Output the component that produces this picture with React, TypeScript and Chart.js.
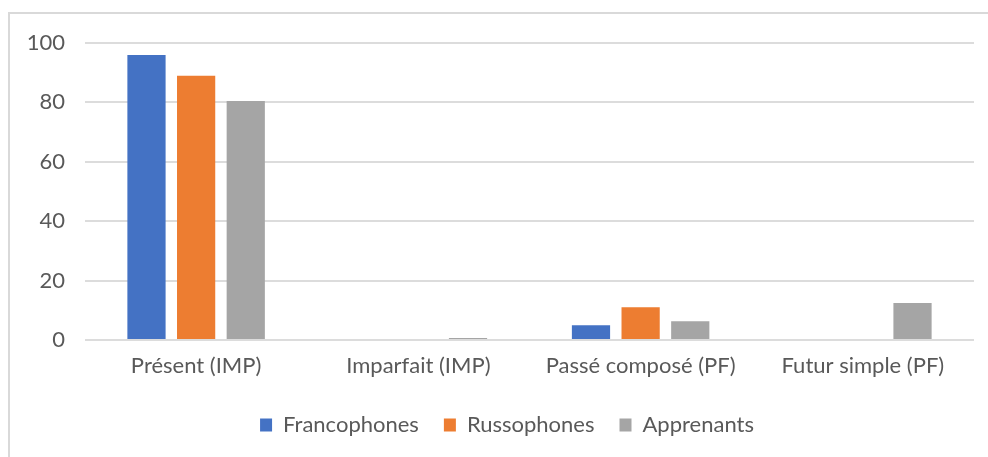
import React, { useEffect, useRef } from "react";
import { Chart, registerables } from "chart.js";

Chart.register(...registerables);

const categories = ["Présent (IMP)", "Imparfait (IMP)", "Passé composé (PF)", "Futur simple (PF)"];
const francophones = [96, 0, 5, 0];
const russophones = [89, 0, 11, 0];
const apprenants = [80.5, 0.7, 6.3, 12.5];
const seriesNames = ["Francophones", "Russophones", "Apprenants"];
const yTicks = [0, 20, 40, 60, 80, 100];

const legendShift = {
  id: "legendShift",
  afterLayout(chart: any) {
    const lg = chart.legend;
    if (lg) {
      lg.left += 20;
      lg.right += 20;
    }
  },
};

export default function App() {
  const ref = useRef<HTMLCanvasElement | null>(null);
  useEffect(() => {
    if (!ref.current) return;
    const font = { family: "Lato, 'Open Sans', sans-serif", size: 22 };
    const chart = new Chart(ref.current, {
      type: "bar",
      data: {
        labels: categories,
        datasets: [
          { label: seriesNames[0], data: francophones, backgroundColor: "#4472C4" },
          { label: seriesNames[1], data: russophones, backgroundColor: "#ED7D31" },
          { label: seriesNames[2], data: apprenants, backgroundColor: "#A5A5A5" },
        ],
      },
      plugins: [legendShift],
      options: {
        animation: false,
        responsive: false,
        devicePixelRatio: 1,
        datasets: { bar: { categoryPercentage: 0.67, barPercentage: 0.77 } },
        layout: { padding: { top: 43, right: 14, left: 0, bottom: 11 } },
        plugins: {
          tooltip: { enabled: false },
          legend: {
            position: "bottom",
            labels: {
              font,
              color: "#595959",
              boxWidth: 12,
              boxHeight: 13,
              padding: 25,
            },
          },
        },
        scales: {
          x: {
            grid: { display: false },
            border: { display: false },
            ticks: { font, color: "#595959", padding: 5, maxRotation: 0 },
            afterFit: (s: any) => {
              s.height = 49;
            },
          },
          y: {
            min: 0,
            max: 100,
            afterBuildTicks: (s: any) => {
              s.ticks = yTicks.map((v) => ({ value: v }));
            },
            afterFit: (s: any) => {
              s.width = 85;
            },
            grid: { color: "#dcdcdc", lineWidth: 2, drawTicks: false },
            border: { display: false },
            ticks: { font, color: "#595959", padding: 20 },
          },
        },
      },
    });
    return () => chart.destroy();
  }, []);
  return (
    <div style={{ position: "fixed", left: 0, top: 0, width: 988, height: 457, background: "#fff", overflow: "hidden" }}>
      <div
        style={{
          position: "absolute",
          left: 8,
          top: 12,
          width: 1100,
          height: 600,
          border: "2px solid #d9d9d9",
        }}
      />
      <canvas ref={ref} width={988} height={457} style={{ position: "absolute", left: 0, top: 0 }} />
    </div>
  );
}
